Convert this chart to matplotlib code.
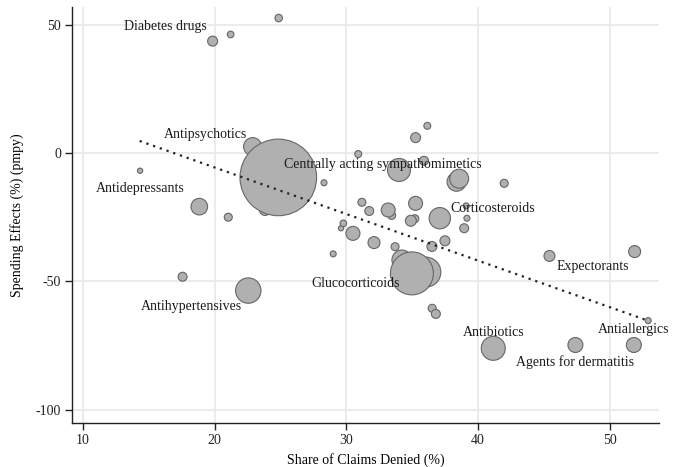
import matplotlib
matplotlib.use("Agg")
import matplotlib.pyplot as plt
import numpy as np

# ---- data ----
claims_denied = [24.86, 19.84, 21.21, 14.33, 22.88, 24.83, 18.83, 21.03, 28.3, 23.82,
                 36.15, 35.26, 30.9, 34.0, 35.9, 38.37, 38.57, 41.99, 31.18, 31.74,
                 33.18, 33.44, 35.26, 34.9, 35.2, 37.1, 39.1, 39.16, 38.95, 37.49,
                 36.5, 33.7, 32.1, 30.5, 29.77, 29.6, 29.0, 34.98, 36.04, 34.22,
                 36.5, 45.43, 51.9, 17.56, 22.55, 36.52, 36.8, 41.16, 47.4, 51.84,
                 52.93]
spending_effect = [52.6, 43.6, 46.2, -6.9, 2.5, -9.5, -20.9, -25.0, -11.6, -22.2,
                   10.6, 6.0, -0.4, -6.6, -3.0, -11.2, -10.0, -11.8, -19.2, -22.6,
                   -22.2, -24.3, -19.6, -26.4, -25.6, -25.4, -20.6, -25.4, -29.3, -34.2,
                   -36.4, -36.5, -34.9, -31.3, -27.4, -29.3, -39.3, -46.9, -46.4, -41.7,
                   -47.1, -40.1, -38.4, -48.2, -53.6, -60.5, -62.7, -76.1, -74.8, -74.8,
                   -65.3]
bubble_weight = [14, 25, 11, 7, 81, 1470, 69, 16, 9, 30,
                 12, 25, 12, 132, 20, 90, 90, 16, 16, 20,
                 49, 16, 49, 30, 16, 114, 9, 9, 20, 25,
                 25, 16, 36, 49, 11, 7, 9, 462, 225, 100,
                 20, 30, 36, 20, 161, 16, 20, 144, 56, 56,
                 9]

trend_x = [14.3, 52.9]
trend_y = [4.7, -65.3]

label_text = ["Diabetes drugs", "Antipsychotics", "Antidepressants",
              "Centrally acting sympathomimetics", "Corticosteroids", "Glucocorticoids",
              "Expectorants", "Antihypertensives", "Antibiotics",
              "Agents for dermatitis", "Antiallergics"]
label_x = [16.23, 19.3, 14.33, 32.8, 41.1, 30.73, 48.7, 18.25, 41.19, 47.4, 51.84]
label_y = [49.3, 7.4, -13.8, -4.3, -21.8, -50.8, -44.3, -59.9, -69.9, -81.3, -68.7]

x_ticks = [10, 20, 30, 40, 50]
y_ticks = [50, 0, -50, -100]

# ---- plot ----
plt.rcParams['font.family'] = ['Liberation Serif', 'DejaVu Serif']
fig = plt.figure(figsize=(6.73, 4.67), dpi=100)
ax = fig.add_axes([0.107, 0.0942, 0.872, 0.8908])

order = np.argsort(bubble_weight, kind="stable")
xs = np.array(claims_denied)[order]
ys = np.array(spending_effect)[order]
ws = np.array(bubble_weight)[order] * 2.07

ax.scatter(xs, ys, s=ws, facecolor="#b0b0b0", edgecolor="#666666",
           linewidths=0.8, zorder=3)
ax.plot(trend_x, trend_y, color="#222222", linestyle=(0, (1, 2.2)),
        linewidth=1.6, zorder=4)

for t, lx, ly in zip(label_text, label_x, label_y):
    ax.text(lx, ly, t, ha="center", va="center", fontsize=10,
            color="#1a1a1a", zorder=5)

ax.set_xlim(9.16, 53.74)
ax.set_ylim(-105.2, 56.9)
ax.set_xticks(x_ticks)
ax.set_yticks(y_ticks)
ax.set_yticklabels([str(v) for v in y_ticks])
ax.grid(True, color="#e8e8e8", linewidth=1.2, zorder=0)
ax.set_axisbelow(True)
for s in ["top", "right"]:
    ax.spines[s].set_visible(False)
for s in ["left", "bottom"]:
    ax.spines[s].set_linewidth(1.0)
    ax.spines[s].set_color("#222222")
ax.tick_params(direction="out", length=5, width=1, labelsize=10,
               colors="#222222", pad=3)
ax.set_xlabel("Share of Claims Denied (%)", fontsize=10, labelpad=4)
ax.set_ylabel("Spending Effects (%) (pmpy)", fontsize=10, labelpad=8)

fig.savefig("out.png", dpi=100)
